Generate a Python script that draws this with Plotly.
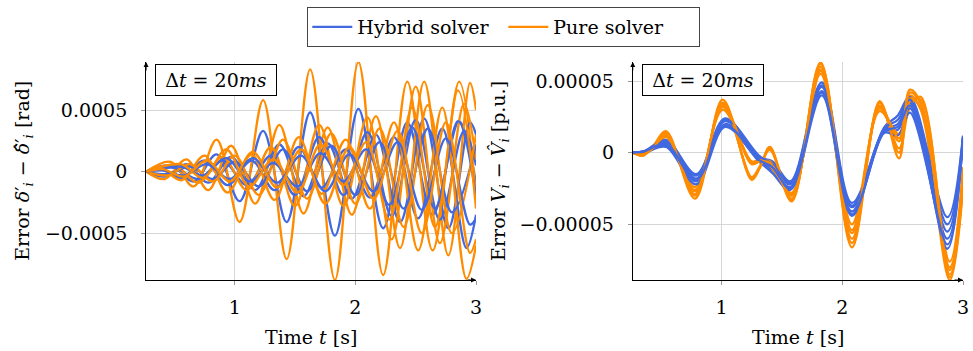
import plotly.graph_objects as go

BLUE = "#4169E1"
ORANGE = "#FF8C00"
FONT = "DejaVu Serif"
W, H = 973, 351

# ---------------- Left panel: rotor angle error (values in 1e-4 rad) ----------------
ang_t1 = [0.265, 0.47, 0.66, 0.85, 1.04, 1.235, 1.43, 1.625, 1.83, 2.025, 2.23, 2.43, 2.64, 2.86, 3.0]
ang_pure1 = [0, 0.8, -1.2, 2.6, -4.1, 5.8, -7.1, 8.3, -8.8, 8.9, -8.4, 7.3, -6.4, 7.3, -2.0]
ang_hyb1 = [0, 0.5, -0.8, 1.4, -2.4, 3.3, -4.1, 4.8, -5.2, 5.1, -4.6, 4.0, -3.5, 4.1, -1.0]

ang_t2 = [0.265, 0.42, 0.6, 0.78, 0.97, 1.17, 1.37, 1.57, 1.77, 1.97, 2.17, 2.37, 2.57, 2.77, 2.95, 3.0]
ang_pure2 = [0, -0.6, 1.0, -1.5, 2.1, -2.6, 3.8, -3.4, 3.6, -3.5, 4.5, -6.2, 7.3, -6.8, 7.2, 5.0]
ang_hyb2 = [0, -0.4, 0.6, -0.9, 1.2, -1.5, 2.2, -2.0, 2.3, -2.2, 3.0, -4.1, 4.3, -4.6, 4.0, 3.0]

ang_t3 = [0.265, 0.5, 0.7, 0.9, 1.1, 1.3, 1.5, 1.7, 1.9, 2.1, 2.3, 2.5, 2.7, 2.9, 3.0]
ang_pure3 = [0, 0.5, -0.9, 1.2, -1.5, 2.0, -2.8, 3.8, -2.8, 4.4, -5.5, 6.9, -5.8, 5.5, 1.0]
ang_hyb3 = [0, 0.3, -0.6, 0.9, -1.1, 1.3, -1.9, 2.8, -1.9, 3.2, -3.6, 4.2, -3.9, 3.3, 0.5]

ang_t4 = [0.265, 0.38, 0.56, 0.75, 0.94, 1.14, 1.33, 1.53, 1.72, 1.92, 2.12, 2.32, 2.52, 2.72, 2.92, 3.0]
ang_pure4 = [0, 0.3, -0.7, 1.3, -1.7, 1.4, -2.3, 2.8, -1.8, 2.6, -3.0, 4.0, -6.4, 5.2, -8.7, -6.0]
ang_hyb4 = [0, 0.2, -0.5, 0.9, -1.1, 0.9, -1.5, 2.0, -1.3, 1.8, -2.1, 2.8, -3.8, 3.5, -6.2, -3.5]

ang_t5 = [0.265, 0.45, 0.63, 0.82, 1.0, 1.2, 1.4, 1.6, 1.8, 2.0, 2.2, 2.4, 2.6, 2.8, 3.0]
ang_pure5 = [0, -0.3, 0.6, -0.8, 1.3, -1.9, 2.6, -2.2, 3.1, -2.6, 3.5, -4.5, 5.4, -5.0, 3.0]
ang_hyb5 = [0, -0.2, 0.4, -0.6, 0.8, -1.2, 1.8, -1.6, 2.1, -1.9, 2.4, -3.0, 3.5, -3.3, 2.2]

ang_t6 = [0.265, 0.55, 0.74, 0.93, 1.12, 1.32, 1.52, 1.71, 1.9, 2.09, 2.28, 2.47, 2.66, 2.85, 3.0]
ang_pure6 = [0, 0.6, -0.5, 1.8, -1.2, 1.0, -1.7, 2.2, -1.1, 2.4, -3.9, 5.2, -4.5, 6.6, -3.0]
ang_hyb6 = [0, 0.4, -0.3, 1.1, -0.8, 0.7, -1.2, 1.5, -0.8, 1.8, -2.7, 3.6, -3.0, 4.1, -2.0]

ang_t7 = [0.265, 0.4, 0.58, 0.77, 0.96, 1.15, 1.35, 1.55, 1.75, 1.95, 2.15, 2.35, 2.55, 2.75, 2.95, 3.0]
ang_pure7 = [0, 0.2, -0.4, 0.9, -0.8, 1.6, -1.3, 1.8, -2.6, 2.0, -2.2, 3.3, -5.0, 4.0, -6.6, -5.5]
ang_hyb7 = [0, 0.1, -0.3, 0.6, -0.6, 1.1, -0.9, 1.3, -1.6, 1.4, -1.6, 2.4, -3.1, 2.7, -4.3, -3.8]

# ---------------- Right panel: voltage error (values in 1e-5 p.u.) ----------------
volt_t_hyb = [0.265, 0.36, 0.54, 0.79, 1.03, 1.31, 1.42, 1.57, 1.83, 2.08, 2.35, 2.46, 2.56, 2.87, 3.0]
volt_hyb1 = [0, 0.1, 0.9, -1.5, 2.4, -0.3, -0.6, -2.0, 4.9, -3.5, 1.8, 2.6, 3.9, -4.5, 1.2]
volt_hyb2 = [0, 0.1, 0.7, -1.8, 2.2, -0.4, -0.9, -2.2, 4.6, -3.8, 1.6, 2.0, 3.5, -5.0, 1.1]
volt_hyb3 = [0, 0.1, 0.5, -2.0, 2.0, -0.5, -1.2, -2.4, 4.3, -4.1, 1.5, 1.6, 3.1, -5.5, 1.0]
volt_hyb4 = [0, 0.0, 0.4, -2.2, 1.8, -0.6, -1.4, -2.6, 4.0, -4.4, 1.4, 1.2, 2.8, -6.0, 0.9]
volt_hyb5 = [0, 0.1, 0.8, -1.6, 2.3, -0.2, -0.8, -2.1, 4.7, -3.7, 1.7, 2.3, 3.7, -6.7, 1.0]
volt_hyb6 = [0, 0.1, 0.6, -1.9, 1.9, -0.5, -1.0, -2.5, 4.2, -4.3, 1.5, 1.8, 3.3, -6.4, 1.1]

volt_t_pure = [0.265, 0.35, 0.43, 0.54, 0.78, 1.01, 1.25, 1.32, 1.40, 1.58, 1.82, 2.08, 2.31, 2.47, 2.56, 2.65, 2.89, 3.0]
volt_pure1 = [0, -0.2, 0.4, 1.5, -3.2, 3.7, -1.9, -1.0, 0.4, -3.4, 6.3, -6.6, 3.6, -0.4, 4.0, 3.0, -8.9, -2.5]
volt_pure2 = [0, -0.15, 0.35, 1.3, -2.9, 3.4, -1.7, -0.9, 0.2, -3.2, 6.0, -6.0, 3.3, 0.3, 3.2, 3.9, -8.5, -2.0]
volt_pure3 = [0, -0.1, 0.3, 1.2, -2.6, 3.2, -0.8, -0.6, -0.6, -3.0, 5.7, -5.4, 3.1, 0.8, 4.4, 3.5, -8.0, -1.5]
volt_pure4 = [0, -0.1, 0.3, 1.1, -2.4, 3.0, -0.6, -0.5, -0.9, -2.8, 5.5, -5.0, 2.9, 1.3, 3.8, 3.1, -7.6, -1.0]
volt_pure5 = [0, -0.2, 0.4, 1.4, -3.0, 3.5, -1.8, -1.0, 0.3, -3.3, 6.2, -6.3, 3.5, 0.0, 3.6, 3.7, -8.7, -2.2]
volt_pure6 = [0, -0.1, 0.3, 1.2, -2.7, 3.3, -0.7, -0.6, -0.7, -2.9, 5.8, -5.6, 3.2, 1.0, 4.2, 3.4, -8.2, -1.5]

x_ticks = [1, 2, 3]
ang_ticks = [-0.0005, 0, 0.0005]
ang_ticktext = ["\u22120.0005", "0", "0.0005"]
volt_ticks = [-0.00005, 0, 0.00005]
volt_ticktext = ["\u22120.00005", "0", "0.00005"]

ang_scale = 1e-4
volt_scale = 1e-5

fig = go.Figure()
shown = {"Hybrid solver": False, "Pure solver": False}


def add(t, vals, scale, name, color, xa, ya):
    show = not shown[name]
    shown[name] = True
    fig.add_trace(go.Scatter(
        x=t, y=[v * scale for v in vals], mode="lines",
        line=dict(color=color, width=2.3, shape="spline", smoothing=1.0),
        name=name, legendgroup=name, showlegend=show,
        xaxis=xa, yaxis=ya, hoverinfo="skip"))


ang_sets = [
    (ang_t1, ang_hyb1, ang_pure1), (ang_t2, ang_hyb2, ang_pure2),
    (ang_t3, ang_hyb3, ang_pure3), (ang_t4, ang_hyb4, ang_pure4),
    (ang_t5, ang_hyb5, ang_pure5), (ang_t6, ang_hyb6, ang_pure6),
    (ang_t7, ang_hyb7, ang_pure7),
]
for t, hyb, pure in ang_sets:
    add(t, hyb, ang_scale, "Hybrid solver", BLUE, "x", "y")
    add(t, pure, ang_scale, "Pure solver", ORANGE, "x", "y")

volt_hyb = [volt_hyb1, volt_hyb2, volt_hyb3, volt_hyb4, volt_hyb5, volt_hyb6]
volt_pure = [volt_pure1, volt_pure2, volt_pure3, volt_pure4, volt_pure5, volt_pure6]
for hyb, pure in zip(volt_hyb, volt_pure):
    add(volt_t_pure, pure, volt_scale, "Pure solver", ORANGE, "x2", "y2")
    add(volt_t_hyb, hyb, volt_scale, "Hybrid solver", BLUE, "x2", "y2")

# geometry (pixels -> paper)
L1, R1 = 147 / W, 479 / W
L2, R2 = 636.7 / W, 969 / W
B, T = 1 - 280 / H, 1 - 62 / H

axis_common = dict(showgrid=True, gridcolor="#d6d6d6", gridwidth=1, zeroline=False,
                   showline=True, linecolor="black", linewidth=1,
                   ticks="outside", ticklen=4, tickcolor="#999", tickwidth=1,
                   tickfont=dict(family=FONT, size=19, color="black"))

fig.update_layout(
    width=W, height=H, margin=dict(l=0, r=0, t=0, b=0),
    plot_bgcolor="white", paper_bgcolor="white",
    font=dict(family=FONT, size=19, color="black"),
    xaxis=dict(domain=[L1, R1], range=[0.265, 3.0], tickvals=x_ticks, anchor="y",
               ticklabelstandoff=6, **axis_common),
    yaxis=dict(domain=[B, T], range=[-0.00088, 0.00089], tickvals=ang_ticks,
               ticktext=ang_ticktext, anchor="x", ticklabelstandoff=10, **axis_common),
    xaxis2=dict(domain=[L2, R2], range=[0.265, 3.0], tickvals=x_ticks, anchor="y2",
                ticklabelstandoff=6, **axis_common),
    yaxis2=dict(domain=[B, T], range=[-0.0000888, 0.0000633], tickvals=volt_ticks,
                ticktext=volt_ticktext, anchor="x2", ticklabelstandoff=10, **axis_common),
    legend=dict(orientation="h", x=0.521, xanchor="center", y=1 - 7 / H, yanchor="top",
                bordercolor="#444", borderwidth=1, bgcolor="white",
                font=dict(family=FONT, size=19), itemwidth=40, tracegroupgap=0,
                entrywidth=141, entrywidthmode="pixels"),
    showlegend=True,
)

annotations = []
for xa, ya, xl, xc, ytx, ytext in [
    ("x", "y", 156 / W, (L1 + R1) / 2, 23 / W,
     "Error <i>δ</i>′<sub><i>i</i></sub> − <i>δ̂</i>′<sub><i>i</i></sub> [rad]"),
    ("x2", "y2", 646 / W, (L2 + R2) / 2, 502 / W,
     "Error <i>V<sub>i</sub></i> − <i>V̂<sub>i</sub></i> [p.u.]"),
]:
    annotations.append(dict(xref="paper", yref="paper", x=xl, y=1 - 64 / H,
                            xanchor="left", yanchor="top", showarrow=False,
                            text="Δ<i>t</i> = 20<i>ms</i>", width=118, height=28,
                            borderpad=1, bordercolor="black", borderwidth=1,
                            bgcolor="white", font=dict(family=FONT, size=19)))
    annotations.append(dict(xref="paper", yref="paper", x=xc, y=1 - 337 / H,
                            xanchor="center", yanchor="middle", showarrow=False,
                            text="Time <i>t</i> [s]", font=dict(family=FONT, size=19)))
    annotations.append(dict(xref="paper", yref="paper", x=ytx, y=(B + T) / 2,
                            xanchor="center", yanchor="middle", showarrow=False,
                            textangle=-90, text=ytext, font=dict(family=FONT, size=19)))
    annotations.append(dict(xref=xa + " domain", yref=ya + " domain", x=0, y=1,
                            ax=0, ay=10, showarrow=True, arrowhead=2, arrowsize=1,
                            arrowwidth=1, arrowcolor="black", text=""))
    annotations.append(dict(xref=xa + " domain", yref=ya + " domain", x=1, y=0,
                            ax=-10, ay=0, showarrow=True, arrowhead=2, arrowsize=1,
                            arrowwidth=1, arrowcolor="black", text=""))
fig.update_layout(annotations=annotations)

fig.write_html("out.html")
